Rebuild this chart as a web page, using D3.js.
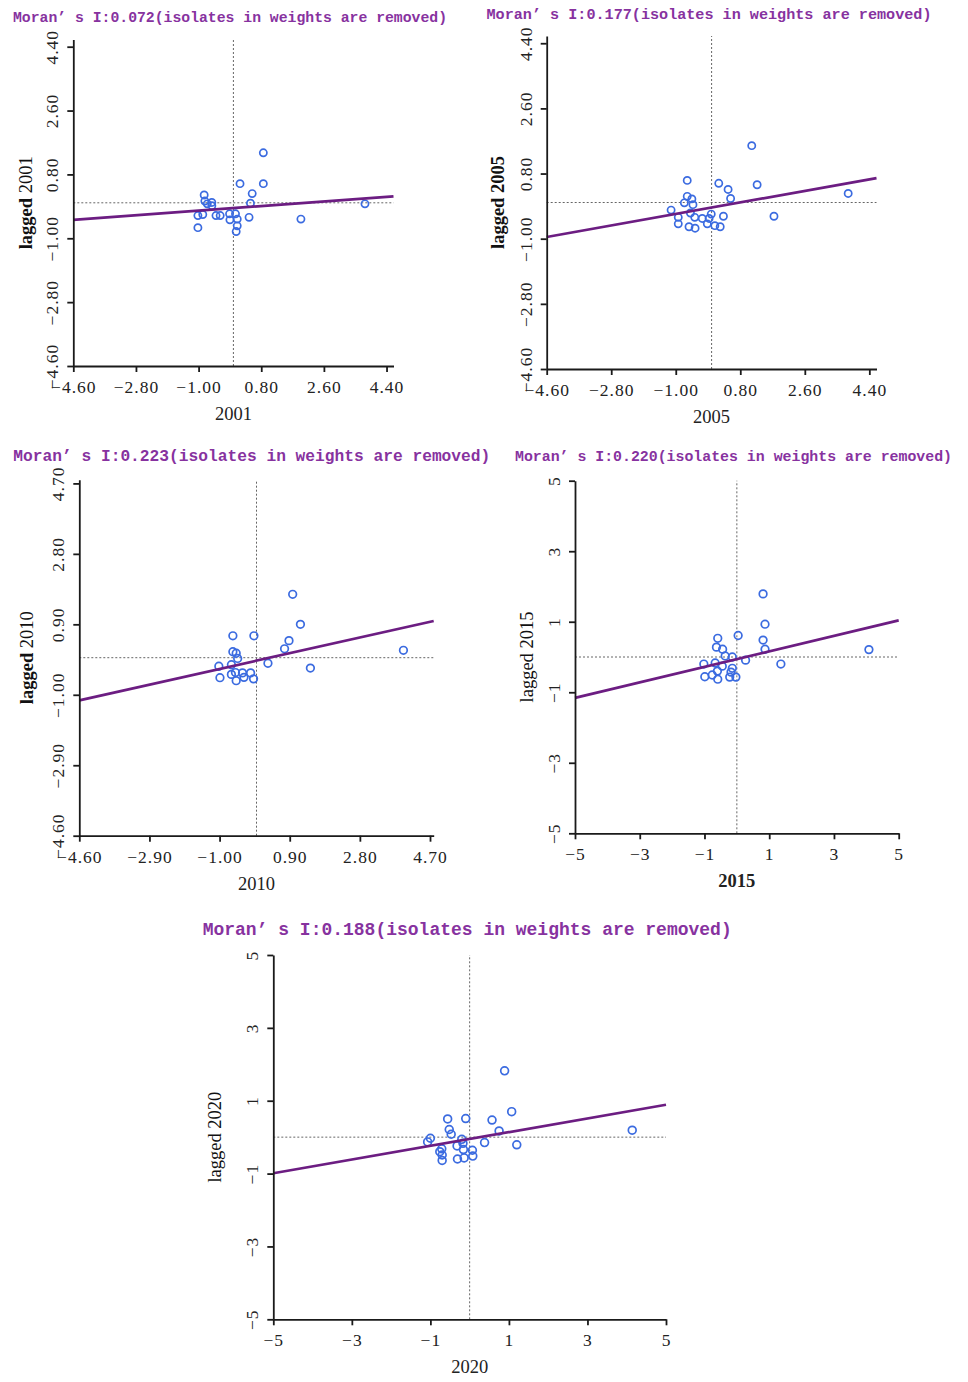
<!DOCTYPE html>
<html>
<head>
<meta charset="utf-8">
<script src="https://cdn.jsdelivr.net/npm/d3@7"></script>
<style>
body{margin:0;background:#fff}
svg{display:block}
</style>
</head>
<body>
<svg id="chart" width="968" height="1382"></svg>
<script>
var years = ["2001", "2005", "2010", "2015", "2020"]
var moranI = [0.072, 0.177, 0.223, 0.220, 0.188]
var intercepts = [-0.15, -0.14, -0.08, -0.06, -0.05]

var x2001 = [0.86,0.19,0.86,0.54,-0.84,-0.82,-0.75,-0.62,-0.62,0.49,3.78,-1.02,-0.88,-0.50,-0.38,-0.11,0.06,-0.10,0.11,0.45,1.94,-1.02,0.11,0.08]
var lag2001 = [1.41,0.54,0.54,0.26,0.22,0.05,-0.03,0.01,-0.08,-0.01,-0.03,-0.36,-0.33,-0.36,-0.36,-0.31,-0.31,-0.48,-0.46,-0.41,-0.46,-0.70,-0.65,-0.81]

var x2005 = [1.12,-0.68,0.20,1.27,0.46,3.81,0.53,-0.68,-0.55,-0.76,-0.52,-1.13,-0.59,-0.01,-0.93,-0.47,-0.26,-0.07,0.33,1.74,-0.93,-0.12,0.09,0.24,-0.63,-0.46]
var lag2005 = [1.57,0.61,0.53,0.49,0.36,0.25,0.11,0.17,0.10,-0.01,-0.06,-0.21,-0.29,-0.32,-0.41,-0.41,-0.44,-0.44,-0.38,-0.38,-0.59,-0.59,-0.64,-0.67,-0.67,-0.71]

var x2010 = [0.98,1.19,-0.64,-0.07,0.88,0.76,-0.64,-0.55,-0.51,3.98,-1.02,-0.68,0.31,1.46,-0.99,-0.68,-0.57,-0.38,-0.34,-0.16,-0.08,-0.55]
var lag2010 = [1.71,0.90,0.59,0.59,0.46,0.24,0.16,0.12,-0.02,0.20,-0.23,-0.19,-0.15,-0.28,-0.54,-0.45,-0.40,-0.41,-0.53,-0.41,-0.57,-0.62]

var x2015 = [0.81,0.87,0.04,-0.59,0.81,-0.63,-0.44,0.87,4.08,-0.36,-0.14,0.27,-1.02,-0.67,1.36,-0.45,-0.14,-0.60,-0.76,-0.99,-0.59,-0.22,-0.03,-0.18]
var lag2015 = [1.79,0.93,0.61,0.53,0.48,0.28,0.22,0.22,0.21,0.03,0.00,-0.09,-0.20,-0.17,-0.20,-0.26,-0.32,-0.40,-0.51,-0.56,-0.63,-0.57,-0.57,-0.43]

var x2020 = [0.89,1.07,-0.56,-0.10,0.57,-0.52,-0.47,0.75,-1.00,-1.07,-0.20,-0.17,0.38,1.20,-0.32,-0.71,-0.76,-0.16,0.07,-0.70,0.08,-0.14,-0.31,-0.70,4.14]
var lag2020 = [1.82,0.70,0.50,0.51,0.47,0.21,0.08,0.17,-0.03,-0.13,-0.06,-0.17,-0.15,-0.21,-0.24,-0.32,-0.40,-0.34,-0.36,-0.49,-0.52,-0.57,-0.60,-0.64,0.19]

// tick positions and the labels printed at them
var ticksA = [-4.6, -2.8, -1.0, 0.8, 2.6, 4.4]
var labelsA = ["\u22124.60", "\u22122.80", "\u22121.00", "0.80", "2.60", "4.40"]
var ticksB = [-4.8, -2.9, -1.0, 0.9, 2.8, 4.7]
var labelsB = ["\u22124.60", "\u22122.90", "\u22121.00", "0.90", "2.80", "4.70"]
var ticksC = [-5, -3, -1, 1, 3, 5]
var labelsC = ["\u22125", "\u22123", "\u22121", "1", "3", "5"]

var svg = d3.select("#chart")

var panels = [
    {xs: x2001, ys: lag2001, ticks: ticksA, labels: labelsA, dom: [-4.6, 4.6], xr: [73.3, 393.5], yr: [366, 39.6],
     tx: 13, ty: 22, tw: 434, ts: 15, ytx: 32, boldLag: true, boldYear: false, boldX: false, r: 3.6},
    {xs: x2005, ys: lag2005, ticks: ticksA, labels: labelsA, dom: [-4.6, 4.6], xr: [546.7, 876.5], yr: [369, 36],
     tx: 486.5, ty: 19, tw: 445, ts: 15, ytx: 503.5, boldLag: true, boldYear: true, boldX: false, r: 3.6},
    {xs: x2010, ys: lag2010, ticks: ticksB, labels: labelsB, dom: [-4.8, 4.8], xr: [79.3, 433.7], yr: [835.7, 479.7],
     tx: 13.3, ty: 461, tw: 477, ts: 16.5, ytx: 32.5, boldLag: true, boldYear: false, boldX: false, r: 3.8},
    {xs: x2015, ys: lag2015, ticks: ticksC, labels: labelsC, dom: [-5, 5], xr: [575, 898.7], yr: [833.3, 480.7],
     tx: 515, ty: 461, tw: 437, ts: 15, ytx: 532.5, boldLag: false, boldYear: false, boldX: true, r: 3.8},
    {xs: x2020, ys: lag2020, ticks: ticksC, labels: labelsC, dom: [-5, 5], xr: [273.3, 666], yr: [1319.3, 955],
     tx: 202.7, ty: 935, tw: 529, ts: 18, ytx: 220.5, boldLag: false, boldYear: false, boldX: false, r: 3.9}
]

panels.forEach(function(p, i) {
    var x = d3.scaleLinear().domain(p.dom).range(p.xr)
    var y = d3.scaleLinear().domain(p.dom).range(p.yr)
    var g = svg.append("g")

    g.append("text")
        .attr("x", p.tx)
        .attr("y", p.ty)
        .attr("textLength", p.tw)
        .attr("lengthAdjust", "spacingAndGlyphs")
        .attr("fill", "#87329f")
        .style("font", "bold " + p.ts + "px 'Liberation Mono', monospace")
        .text("Moran\u2019 s I:" + moranI[i].toFixed(3) + "(isolates in weights are removed)")

    // zero reference lines
    g.append("line")
        .attr("x1", x(p.dom[0])).attr("x2", x(p.dom[1]))
        .attr("y1", y(0)).attr("y2", y(0))
        .attr("stroke", "#666").attr("stroke-width", 1).attr("stroke-dasharray", "2,2")
    g.append("line")
        .attr("x1", x(0)).attr("x2", x(0))
        .attr("y1", y(p.dom[0])).attr("y2", y(p.dom[1]))
        .attr("stroke", "#666").attr("stroke-width", 1).attr("stroke-dasharray", "2,2")

    var fit = d3.line()
        .x(d => x(d))
        .y(d => y(intercepts[i] + moranI[i] * d))

    g.append("g")
        .attr("fill", "none")
        .attr("stroke", "#3b6be0")
        .attr("stroke-width", 1.7)
    .selectAll("circle")
    .data(d3.zip(p.xs, p.ys))
    .join("circle")
        .attr("cx", d => x(d[0]))
        .attr("cy", d => y(d[1]))
        .attr("r", p.r)

    g.append("path")
        .datum(p.dom)
        .attr("fill", "none")
        .attr("stroke", "#6c1d82")
        .attr("stroke-width", 2.7)
        .attr("d", fit)

    var xAxis = g.append("g")
        .attr("transform", `translate(0,${p.yr[0]})`)
        .call(d3.axisBottom(x).tickValues(p.ticks).tickFormat((d, k) => p.labels[k]).tickSize(6).tickSizeOuter(0))
    var yAxis = g.append("g")
        .attr("transform", `translate(${p.xr[0]},0)`)
        .call(d3.axisLeft(y).tickValues(p.ticks).tickFormat((d, k) => p.labels[k]).tickSize(6).tickSizeOuter(0))

    g.selectAll(".domain, .tick line")
        .attr("stroke", "#1a1a1a")
        .attr("stroke-width", 1.8)

    xAxis.selectAll("text")
        .attr("y", 27).attr("dy", 0)
        .attr("fill", "#222")
        .style("font", "17.5px 'Liberation Serif', serif")
        .style("letter-spacing", "1px")
    yAxis.selectAll("text")
        .attr("transform", "rotate(-90)")
        .attr("text-anchor", "middle")
        .attr("x", 0).attr("y", -15).attr("dy", 0)
        .attr("fill", "#222")
        .style("font", "17.5px 'Liberation Serif', serif")
        .style("letter-spacing", "1px")

    g.append("text")
        .attr("x", (p.xr[0] + p.xr[1]) / 2)
        .attr("y", p.yr[0] + 54)
        .attr("text-anchor", "middle")
        .attr("fill", "#222")
        .style("font", (p.boldX ? "bold " : "") + "18.5px 'Liberation Serif', serif")
        .text(years[i])

    var yt = g.append("text")
        .attr("transform", `translate(${p.ytx},${(p.yr[0] + p.yr[1]) / 2}) rotate(-90)`)
        .attr("text-anchor", "middle")
        .attr("fill", "#111")
        .style("font", "18.5px 'Liberation Serif', serif")
    yt.append("tspan").style("font-weight", p.boldLag ? "bold" : "normal").text("lagged ")
    yt.append("tspan").style("font-weight", p.boldYear ? "bold" : "normal").text(years[i])
})
</script>
</body>
</html>
